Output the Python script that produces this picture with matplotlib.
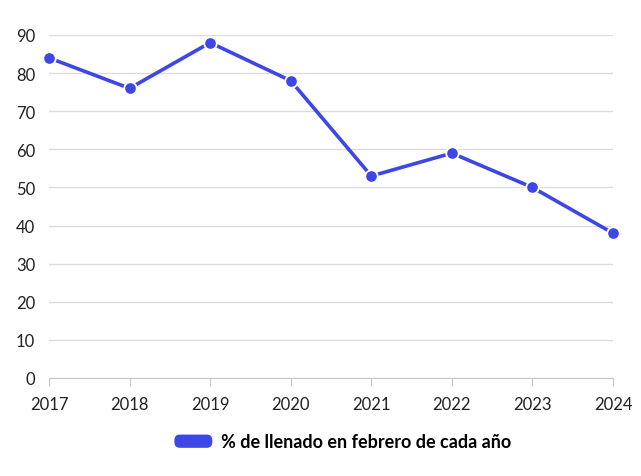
import matplotlib
matplotlib.use("Agg")
import matplotlib.pyplot as plt
from matplotlib.patches import FancyBboxPatch, Patch
from matplotlib.legend_handler import HandlerPatch

plt.rcParams["font.family"] = ["Lato", "DejaVu Sans"]

years = [2017, 2018, 2019, 2020, 2021, 2022, 2023, 2024]
fill_pct = [84, 76, 88, 78, 53, 59, 50, 38]
y_ticks = [0, 10, 20, 30, 40, 50, 60, 70, 80, 90]
series_label = "% de llenado en febrero de cada año"

LINE_COLOR = "#3d47e5"
GRID_COLOR = "#dcdcdc"


class RoundedHandler(HandlerPatch):
    def create_artists(self, legend, orig_handle, xdescent, ydescent,
                       width, height, fontsize, trans):
        p = FancyBboxPatch((-xdescent, -ydescent), width, height,
                           boxstyle="round,pad=0,rounding_size=4",
                           facecolor=orig_handle.get_facecolor(),
                           edgecolor="none", transform=trans)
        return [p]


fig = plt.figure(figsize=(6.41, 4.77), dpi=100)
ax = fig.add_axes([49 / 641, 1 - 379 / 477, (613 - 49) / 641, (379 - 36) / 477])

ax.plot(years, fill_pct, color=LINE_COLOR, linewidth=2.6, marker="o",
        markersize=9, markerfacecolor=LINE_COLOR, markeredgecolor="white",
        markeredgewidth=1.3, zorder=3, clip_on=False)

ax.set_xlim(years[0], years[-1])
ax.set_ylim(0, 90)
ax.set_xticks(years)
ax.set_yticks(y_ticks)
ax.grid(axis="y", color=GRID_COLOR, linewidth=1)
ax.set_axisbelow(True)

for s in ("left", "right", "top"):
    ax.spines[s].set_visible(False)
ax.spines["bottom"].set_color("#c8c8c8")
ax.tick_params(axis="y", length=0, pad=10, labelsize=12, labelcolor="#222222")
ax.tick_params(axis="x", length=6, color="#c8c8c8", pad=7, labelsize=12,
               labelcolor="#222222")

handle = Patch(facecolor=LINE_COLOR, label=series_label)
fig.legend(handles=[handle], handler_map={Patch: RoundedHandler()},
           loc="center", bbox_to_anchor=(343 / 641, 1 - 443 / 477),
           frameon=False, handlelength=2.1, handleheight=0.75, handletextpad=0.5,
           prop={"weight": "bold", "size": 13})

fig.savefig("out.png", dpi=100)
